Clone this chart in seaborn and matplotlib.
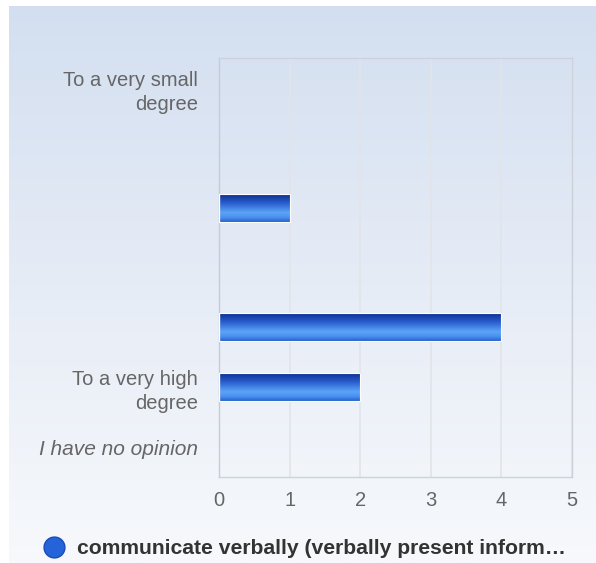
import numpy as np
import pandas as pd
import matplotlib
matplotlib.use("Agg")
import matplotlib.pyplot as plt
import seaborn as sns
from matplotlib.colors import LinearSegmentedColormap
from matplotlib.lines import Line2D

# data
levels = ["1", "2", "3", "4", "5", "6", "none"]
level_labels = ["To a very small\ndegree", "", "", "", "", "To a very high\ndegree", "I have no opinion"]
counts = [0, 0, 1, 0, 4, 2, 0]
series_name = "communicate verbally (verbally present inform\u2026"
x_ticks = [0, 1, 2, 3, 4, 5]

df = pd.DataFrame({"level": levels, "count": counts})

sns.set_style("white")
plt.rcParams["font.family"] = ["Liberation Sans", "DejaVu Sans"]

fig = plt.figure(figsize=(5.96, 5.63), dpi=100)

# background panel with a soft vertical gradient
bg = fig.add_axes([9 / 596, 0, 1 - 9 / 596, 1 - 6 / 563], zorder=-10)
bg_cmap = LinearSegmentedColormap.from_list("bg", ["#d3dff0", "#e6ecf6", "#f7f9fc"])
bg.imshow(np.linspace(0, 1, 256).reshape(-1, 1), aspect="auto", cmap=bg_cmap,
          extent=[0, 1, 0, 1])
bg.set_axis_off()

ax = fig.add_axes([219 / 596, 1 - 477 / 563, 353 / 596, 419 / 563])
ax.patch.set_alpha(0)

sns.barplot(data=df, x="count", y="level", order=levels, orient="h",
            color="#2f66d0", width=0.47, ax=ax, zorder=3)

# gradient fill for each bar
bar_cmap = LinearSegmentedColormap.from_list(
    "bar", [(0, "#0a2a8a"), (0.35, "#2a5fcf"), (0.68, "#5ca4f8"), (0.85, "#4a8ef0"), (1, "#2462c8")])
grad = np.linspace(0, 1, 128).reshape(-1, 1)
for p in ax.patches:
    w = p.get_width()
    if w <= 0:
        p.set_visible(False)
        continue
    y0 = p.get_y()
    h = p.get_height()
    p.set_facecolor("none")
    p.set_edgecolor("white")
    p.set_linewidth(0.8)
    im = ax.imshow(grad, aspect="auto", cmap=bar_cmap,
                   extent=[0, w, y0 + h, y0], zorder=2)
    im.set_clip_path(p)

ax.set_xlim(0, 5)
ax.set_ylim(len(levels) - 0.5, -0.5)
ax.set_xticks(x_ticks)
ax.set_xticklabels([str(t) for t in x_ticks])
ax.set_yticks(range(len(levels)))
ax.set_yticklabels(level_labels)
ax.set_xlabel("")
ax.set_ylabel("")
ax.grid(axis="x", color="#e2e4e8", linewidth=1.2, zorder=0)
ax.set_axisbelow(True)
for s in ax.spines.values():
    s.set_visible(True)
    s.set_color("#cdd2da")
    s.set_linewidth(1.0)
ax.spines["left"].set_color("#c3ccdb")
ax.tick_params(axis="both", length=0, labelsize=14.5, labelcolor="#666666")
ax.tick_params(axis="x", pad=10)
ax.tick_params(axis="y", pad=15)
for lab in ax.get_yticklabels():
    lab.set_multialignment("right")
    lab.set_linespacing(1.35)
ax.get_yticklabels()[-1].set_style("italic")
ax.get_yticklabels()[-1].set_fontsize(15)

handle = Line2D([], [], marker="o", linestyle="", markersize=15,
                markerfacecolor="#2563d8", markeredgecolor="#1a4ab8")
leg = fig.legend([handle], [series_name], loc="center", bbox_to_anchor=(0.502, 1 - 549 / 563),
                 frameon=False, handletextpad=0.1, prop={"size": 15.2, "weight": "bold"})
for t in leg.get_texts():
    t.set_color("#333333")

fig.savefig("out.png", dpi=100)
